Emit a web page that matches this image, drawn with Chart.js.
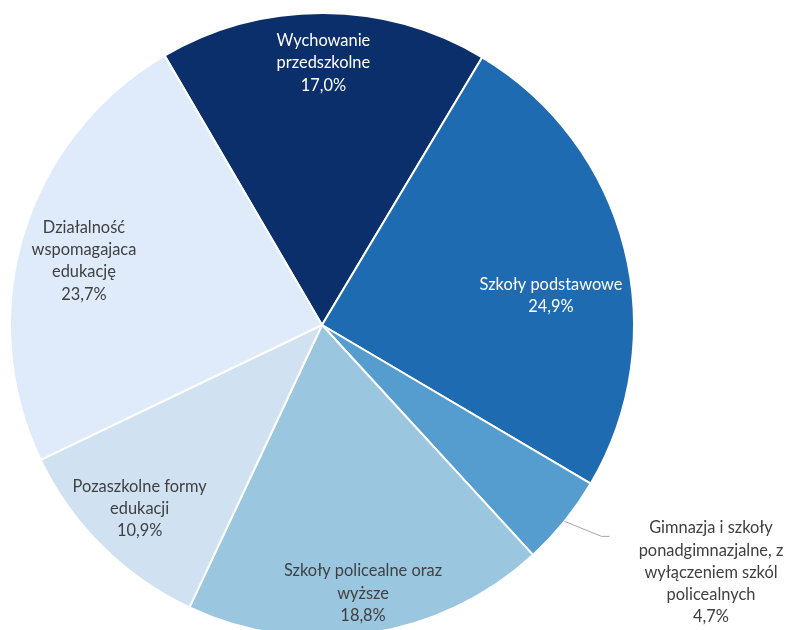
<!DOCTYPE html>
<html>
<head>
<meta charset="utf-8">
<script src="https://cdn.jsdelivr.net/npm/chart.js@4.4.1/dist/chart.umd.min.js"></script>
<style>
  html, body { margin: 0; padding: 0; background: #ffffff; overflow: hidden; width: 791px; height: 630px; }
  #wrap { position: absolute; left: 0; top: 0; width: 791px; height: 660px; }
</style>
</head>
<body>
<div id="wrap"><canvas id="c" width="791" height="660"></canvas></div>
<script>
// ---- data ----
const categories = [
  ["Wychowanie", "przedszkolne"],
  ["Szkoły podstawowe"],
  ["Gimnazja i szkoły", "ponadgimnazjalne, z", "wyłączeniem szkól", "policealnych"],
  ["Szkoły policealne oraz", "wyższe"],
  ["Pozaszkolne formy", "edukacji"],
  ["Działalność", "wspomagajaca", "edukację"]
];
const shares = [17.0, 24.9, 4.7, 18.8, 10.9, 23.7];
const valueLabels = ["17,0%", "24,9%", "4,7%", "18,8%", "10,9%", "23,7%"];

// ---- styles ----
const sliceColors = ["#0B2F6A", "#1F6BB1", "#559CCF", "#9BC6E0", "#D0E2F2", "#DFEBFB"];
const textColors = ["#FFFFFF", "#FFFFFF", "#404040", "#404040", "#404040", "#404040"];
// label placement: radius fraction + angular shift (deg); outside flag for leader-line labels
const placement = [
  { r: 0.84, da: 0 },
  { r: 0.74, da: 7 },
  { outside: true, elbow: [37, 15], tail: 8, tx: 711, ty: 528 },
  { r: 0.87, da: 0 },
  { r: 0.83, da: 0 },
  { r: 0.79, da: -2 }
];
const FONT = '16.4px Lato, "Open Sans", sans-serif';
const LINE_H = 22.3;

const labelPlugin = {
  id: 'sliceLabels',
  afterDatasetsDraw(chart) {
    const ctx = chart.ctx;
    const meta = chart.getDatasetMeta(0);
    ctx.save();
    ctx.font = FONT;
    ctx.textAlign = 'center';
    ctx.textBaseline = 'middle';
    meta.data.forEach((arc, i) => {
      const p = arc.getProps(['x', 'y', 'startAngle', 'endAngle', 'outerRadius'], true);
      const mid = (p.startAngle + p.endAngle) / 2;
      const lines = categories[i].concat([valueLabels[i]]);
      const pl = placement[i];
      if (pl.outside) {
        const ax = p.x + Math.cos(mid) * p.outerRadius;
        const ay = p.y + Math.sin(mid) * p.outerRadius;
        const bx = ax + pl.elbow[0], by = ay + pl.elbow[1];
        ctx.strokeStyle = '#A6A6A6';
        ctx.lineWidth = 1;
        ctx.beginPath();
        ctx.moveTo(ax, ay);
        ctx.lineTo(bx, by);
        ctx.lineTo(bx + pl.tail, by);
        ctx.stroke();
        ctx.fillStyle = '#404040';
        lines.forEach((t, k) => ctx.fillText(t, pl.tx, pl.ty + k * LINE_H));
      } else {
        const a = mid + pl.da * Math.PI / 180;
        const cx = p.x + Math.cos(a) * p.outerRadius * pl.r;
        const cy = p.y + Math.sin(a) * p.outerRadius * pl.r;
        const y0 = cy - (lines.length - 1) * LINE_H / 2;
        ctx.fillStyle = textColors[i];
        lines.forEach((t, k) => ctx.fillText(t, cx, y0 + k * LINE_H));
      }
    });
    ctx.restore();
  }
};

new Chart(document.getElementById('c'), {
  type: 'pie',
  data: {
    labels: categories.map(l => l.join(' ')),
    datasets: [{
      data: shares,
      backgroundColor: sliceColors,
      borderColor: '#FFFFFF',
      borderWidth: 2
    }]
  },
  options: {
    responsive: false,
    animation: false,
    rotation: -30.3,
    layout: { padding: { left: 9, right: 156, top: 12, bottom: 22 } },
    plugins: {
      legend: { display: false },
      tooltip: { enabled: false }
    }
  },
  plugins: [labelPlugin]
});
</script>
</body>
</html>
